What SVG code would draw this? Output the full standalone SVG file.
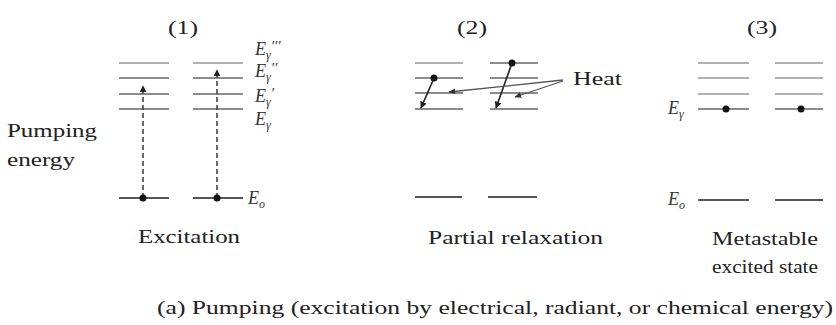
<svg xmlns="http://www.w3.org/2000/svg" width="836" height="325" viewBox="0 0 836 325">
<defs>
<style>
.t{font-family:"Liberation Serif","Times New Roman",serif;fill:#222;font-size:19px}
.e{font-family:"Liberation Serif","Times New Roman",serif;fill:#333;font-size:18px;font-style:italic}
.s{font-size:12px}
.p{font-size:15px;font-style:normal}
.lv{stroke:#666;stroke-width:1.6;fill:none}
.lt{stroke:#999;stroke-width:1.4;fill:none}
.gd{stroke:#555;stroke-width:1.8;fill:none}
.dash{stroke:#444;stroke-width:1.6;stroke-dasharray:5 3;fill:none}
.ar{stroke:#222;stroke-width:1.6;fill:none}
.ht{stroke:#555;stroke-width:1.3;fill:none}
.dot{fill:#111}
</style>
<marker id="ah" viewBox="0 0 10 10" refX="9" refY="5" markerWidth="7" markerHeight="7" orient="auto" markerUnits="userSpaceOnUse">
<path d="M0,0 L10,5 L0,10 z" fill="#222"/>
</marker>
<marker id="ah2" viewBox="0 0 10 10" refX="9" refY="5" markerWidth="7" markerHeight="7" orient="auto" markerUnits="userSpaceOnUse">
<path d="M0,1 L10,5 L0,9 z" fill="#333"/>
</marker>
</defs>
<rect width="836" height="325" fill="#fff"/>

<g id="panel1">
<text class="t" x="168" y="34" textLength="30" lengthAdjust="spacingAndGlyphs">(1)</text>
<g id="levels1">
<line class="lt" x1="119" y1="63" x2="169" y2="63"/>
<line class="lv" x1="119" y1="78" x2="169" y2="78"/>
<line class="lv" x1="119" y1="94" x2="169" y2="94"/>
<line class="lv" x1="119" y1="109" x2="169" y2="109"/>
<line class="gd" x1="119" y1="198" x2="169" y2="198"/>
<line class="lt" x1="193" y1="63" x2="243" y2="63"/>
<line class="lv" x1="193" y1="78" x2="243" y2="78"/>
<line class="lv" x1="193" y1="94" x2="243" y2="94"/>
<line class="lv" x1="193" y1="109" x2="243" y2="109"/>
<line class="gd" x1="193" y1="198" x2="243" y2="198"/>
</g>
<g id="labels1">
<text class="e" x="255" y="55">E<tspan class="s" dy="4">γ</tspan><tspan class="p" dy="-8" dx="1">′′′</tspan></text>
<text class="e" x="255" y="77">E<tspan class="s" dy="4">γ</tspan><tspan class="p" dy="-8" dx="1">′′</tspan></text>
<text class="e" x="255" y="102">E<tspan class="s" dy="4">γ</tspan><tspan class="p" dy="-8" dx="1">′</tspan></text>
<text class="e" x="255" y="125">E<tspan class="s" dy="4">γ</tspan></text>
<text class="e" x="248" y="204">E<tspan class="s" dy="4">o</tspan></text>
</g>
<text id="pumping" class="t"><tspan x="7" y="137" textLength="90" lengthAdjust="spacingAndGlyphs">Pumping</tspan><tspan x="7" y="166" textLength="68" lengthAdjust="spacingAndGlyphs">energy</tspan></text>
<text class="t" x="138" y="243" textLength="102" lengthAdjust="spacingAndGlyphs">Excitation</text>
</g>

<g id="panel2">
<text class="t" x="457" y="34" textLength="30" lengthAdjust="spacingAndGlyphs">(2)</text>
<g id="levels2">
<line class="lt" x1="415" y1="63" x2="463" y2="63"/>
<line class="lv" x1="415" y1="78" x2="463" y2="78"/>
<line class="lv" x1="415" y1="93" x2="463" y2="93"/>
<line class="lv" x1="415" y1="109" x2="463" y2="109"/>
<line class="gd" x1="415" y1="197" x2="462" y2="197"/>
<line class="lv" x1="490" y1="63" x2="538" y2="63"/>
<line class="lv" x1="490" y1="78" x2="538" y2="78"/>
<line class="lv" x1="490" y1="93" x2="538" y2="93"/>
<line class="lv" x1="490" y1="109" x2="538" y2="109"/>
<line class="gd" x1="488" y1="197" x2="537" y2="197"/>
</g>
<text class="t" x="573" y="85" textLength="49" lengthAdjust="spacingAndGlyphs">Heat</text>
<text class="t" x="428" y="244" textLength="175" lengthAdjust="spacingAndGlyphs">Partial relaxation</text>
</g>

<g id="panel3">
<text class="t" x="747" y="34" textLength="30" lengthAdjust="spacingAndGlyphs">(3)</text>
<g id="levels3">
<line class="lt" x1="698" y1="63" x2="749" y2="63"/>
<line class="lt" x1="698" y1="78" x2="749" y2="78"/>
<line class="lt" x1="698" y1="94" x2="749" y2="94"/>
<line class="lv" x1="698" y1="109" x2="749" y2="109"/>
<line class="gd" x1="698" y1="200" x2="749" y2="200"/>
<line class="lt" x1="775" y1="63" x2="823" y2="63"/>
<line class="lt" x1="775" y1="78" x2="823" y2="78"/>
<line class="lt" x1="775" y1="94" x2="823" y2="94"/>
<line class="lv" x1="775" y1="109" x2="823" y2="109"/>
<line class="gd" x1="775" y1="200" x2="823" y2="200"/>
</g>
<circle class="dot" cx="726" cy="109" r="3.5"/>
<circle class="dot" cx="801" cy="109" r="3.5"/>
<text class="e" x="668" y="114">E<tspan class="s" dy="4">γ</tspan></text>
<text class="e" x="668" y="205">E<tspan class="s" dy="4">o</tspan></text>
<text class="t"><tspan x="712" y="245" textLength="106" lengthAdjust="spacingAndGlyphs">Metastable</tspan><tspan x="712" y="273" textLength="106" lengthAdjust="spacingAndGlyphs">excited state</tspan></text>
</g>

<g id="connectors">
<line class="dash" x1="143" y1="198" x2="143" y2="86" marker-end="url(#ah)"/>
<line class="dash" x1="217" y1="198" x2="217" y2="70" marker-end="url(#ah)"/>
<circle class="dot" cx="143" cy="198" r="3.5"/>
<circle class="dot" cx="217" cy="198" r="3.5"/>
<circle class="dot" cx="434" cy="78" r="3.5"/>
<line class="ar" x1="434" y1="78" x2="421" y2="108" marker-end="url(#ah)"/>
<circle class="dot" cx="512" cy="63" r="3.5"/>
<line class="ar" x1="512" y1="63" x2="496" y2="108" marker-end="url(#ah)"/>
<line class="ht" x1="563" y1="80" x2="449" y2="92" marker-end="url(#ah2)"/>
<line class="ht" x1="563" y1="81" x2="515" y2="97" marker-end="url(#ah2)"/>
</g>

<text id="caption" class="t" x="157" y="314" textLength="676" lengthAdjust="spacingAndGlyphs">(a) Pumping (excitation by electrical, radiant, or chemical energy)</text>
</svg>
